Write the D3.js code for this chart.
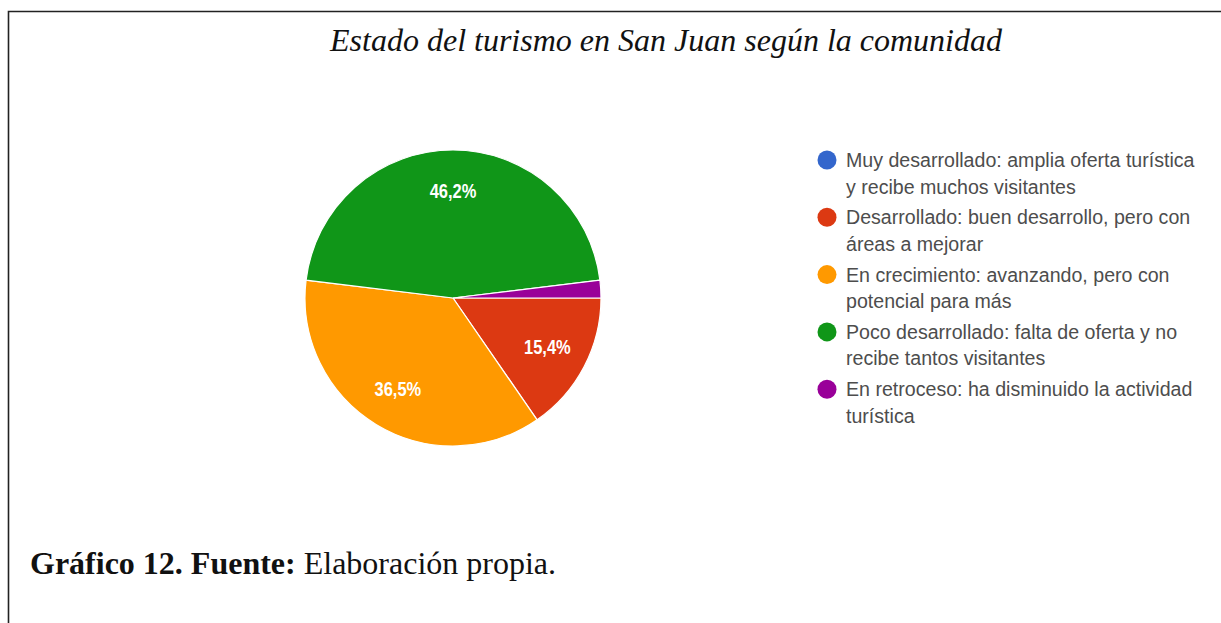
<!DOCTYPE html>
<meta charset="utf-8">
<script src="https://d3js.org/d3.v7.min.js"></script>
<div id="chart"></div>
<script>

// data (52 answers)
var categories = [
  "Muy desarrollado: amplia oferta turística y recibe muchos visitantes",
  "Desarrollado: buen desarrollo, pero con áreas a mejorar",
  "En crecimiento: avanzando, pero con potencial para más",
  "Poco desarrollado: falta de oferta y no recibe tantos visitantes",
  "En retroceso: ha disminuido la actividad turística"
];
var legendLines = [
  ["Muy desarrollado: amplia oferta turística", "y recibe muchos visitantes"],
  ["Desarrollado: buen desarrollo, pero con", "áreas a mejorar"],
  ["En crecimiento: avanzando, pero con", "potencial para más"],
  ["Poco desarrollado: falta de oferta y no", "recibe tantos visitantes"],
  ["En retroceso: ha disminuido la actividad", "turística"]
];
var counts = [0, 8, 19, 24, 1];
var colors = ["#3366cc", "#dc3912", "#ff9900", "#109618", "#990099"];

var width = 1221, height = 623;

var svg = d3.select("#chart")
  .append("svg")
    .attr("width", width)
    .attr("height", height);

// frame (top and left edges only visible)
svg.append("path")
  .attr("d", "M8.5,623V11.5H1221")
  .attr("fill", "none")
  .attr("stroke", "#222")
  .attr("stroke-width", 1.6);

svg.append("text")
  .attr("x", 666)
  .attr("y", 51)
  .attr("text-anchor", "middle")
  .style("font", "italic 32px 'Liberation Serif', 'Times New Roman', serif")
  .style("fill", "#111")
  .text("Estado del turismo en San Juan según la comunidad");

var total = d3.sum(counts);
var cx = 453, cy = 298, r = 148;

var pie = d3.pie()
  .sort(null)
  .startAngle(Math.PI / 2)
  .endAngle(Math.PI / 2 + 2 * Math.PI)
  .value(function(d) { return d; });

var arc = d3.arc().innerRadius(0).outerRadius(r);
var labelArc = d3.arc().innerRadius(r * 0.72).outerRadius(r * 0.72);

var arcs = pie(counts);

var g = svg.append("g").attr("transform", "translate(" + cx + "," + cy + ")");

g.selectAll("path.slice")
  .data(arcs)
  .enter().append("path")
    .attr("class", "slice")
    .attr("d", arc)
    .attr("fill", function(d, i) { return colors[i]; })
    .attr("stroke", "#fff")
    .attr("stroke-width", function(d) { return d.value > 0 ? 1.2 : 0; });

g.selectAll("text.pct")
  .data(arcs.filter(function(d) { return d.value / total > 0.05; }))
  .enter().append("text")
    .attr("class", "pct")
    .attr("transform", function(d) { return "translate(" + labelArc.centroid(d) + ") scale(1,1.18)"; })
    .attr("dy", "0.35em")
    .attr("text-anchor", "middle")
    .style("font", "bold 16.5px 'Liberation Sans', Arial, sans-serif")
    .style("fill", "#fff")
    .text(function(d) { return (d.value / total * 100).toFixed(1).replace(".", ",") + "%"; });

// legend
var legend = svg.append("g").attr("transform", "translate(827,160)");
var item = legend.selectAll("g.item")
  .data(categories)
  .enter().append("g")
    .attr("class", "item")
    .attr("transform", function(d, i) { return "translate(0," + (i * 57.3) + ")"; });

item.append("circle")
  .attr("r", 9.5)
  .attr("fill", function(d, i) { return colors[i]; });

item.append("text")
  .attr("x", 19)
  .attr("y", 7)
  .style("font", "19.6px 'Liberation Sans', Arial, sans-serif")
  .style("fill", "#4d4d4d")
  .selectAll("tspan")
  .data(function(d, i) { return legendLines[i]; })
  .enter().append("tspan")
    .attr("x", 19)
    .attr("dy", function(d, j) { return j === 0 ? 0 : 26.5; })
    .text(function(d) { return d; });

// caption
var cap = svg.append("text")
  .attr("x", 30)
  .attr("y", 574)
  .style("font", "32px 'Liberation Serif', 'Times New Roman', serif")
  .style("fill", "#111");
cap.append("tspan").style("font-weight", "bold").text("Gráfico 12. Fuente:");
cap.append("tspan").text(" Elaboración propia.");

</script>
<style>
html, body { margin: 0; padding: 0; background: #fff; }
svg { display: block; }
</style>
